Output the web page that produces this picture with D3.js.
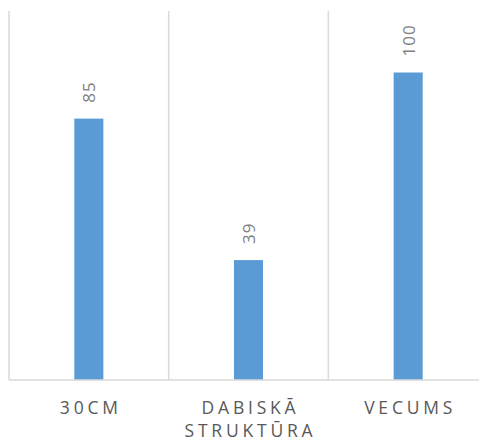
<!DOCTYPE html>
<html>
<head>
<meta charset="utf-8">
<script src="https://cdn.jsdelivr.net/npm/d3@7"></script>
<style>
  html, body { margin: 0; padding: 0; background: #ffffff; }
  svg { display: block; }
</style>
</head>
<body>
<svg id="chart" width="479" height="442"></svg>
<script>
// Categories (each label split into its display lines) and values
const categories = ["30CM", "DABISKĀ STRUKTŪRA", "VECUMS"];
const categoryLines = [["30CM"], ["DABISKĀ", "STRUKTŪRA"], ["VECUMS"]];
const values = [85, 39, 100];
const valueMax = 120;

const svg = d3.select("#chart");
const plotLeft = 9, plotRight = 488, plotTop = 11, plotBottom = 380;

const barFrac = 0.182;
const x = d3.scaleBand()
  .domain(categories)
  .range([plotLeft, plotRight])
  .paddingInner(1 - barFrac)
  .paddingOuter((1 - barFrac) / 2);

const y = d3.scaleLinear().domain([0, valueMax]).range([plotBottom, plotTop]);

const step = x.step();
// vertical separators between categories
const bounds = d3.range(categories.length + 1).map(i => plotLeft + i * step);
svg.append("g").selectAll("line").data(bounds).join("line")
  .attr("x1", d => d).attr("x2", d => d)
  .attr("y1", plotTop).attr("y2", plotBottom)
  .attr("stroke", "#d9d9d9").attr("stroke-width", 1.5);

// bars
svg.append("g").selectAll("rect").data(values).join("rect")
  .attr("x", (d, i) => x(categories[i]))
  .attr("width", x.bandwidth())
  .attr("y", d => y(d))
  .attr("height", d => y(0) - y(d))
  .attr("fill", "#5b9bd5");

// baseline
svg.append("line")
  .attr("x1", plotLeft).attr("x2", plotRight)
  .attr("y1", plotBottom).attr("y2", plotBottom)
  .attr("stroke", "#d9d9d9").attr("stroke-width", 1.5);

// rotated value labels
svg.append("g").selectAll("text").data(values).join("text")
  .attr("transform", (d, i) => {
    const cx = x(categories[i]) + x.bandwidth() / 2;
    return `translate(${cx + 6.5},${y(d) - 16}) rotate(-90)`;
  })
  .attr("text-anchor", "start")
  .attr("font-family", "'Open Sans', sans-serif")
  .attr("font-size", 17)
  .attr("letter-spacing", 1)
  .attr("fill", "#808080")
  .text(d => d);

// category labels
const catG = svg.append("g");
categoryLines.forEach((lines, i) => {
  const cx = x(categories[i]) + x.bandwidth() / 2;
  const t = catG.append("text")
    .attr("text-anchor", "middle")
    .attr("font-family", "'Open Sans', sans-serif")
    .attr("font-size", 17.5)
    .attr("letter-spacing", 3.8)
    .attr("fill", "#595959");
  lines.forEach((ln, j) => {
    t.append("tspan")
      .attr("x", cx + 2)
      .attr("y", 414 + j * 23)
      .text(ln);
  });
});
</script>
</body>
</html>
